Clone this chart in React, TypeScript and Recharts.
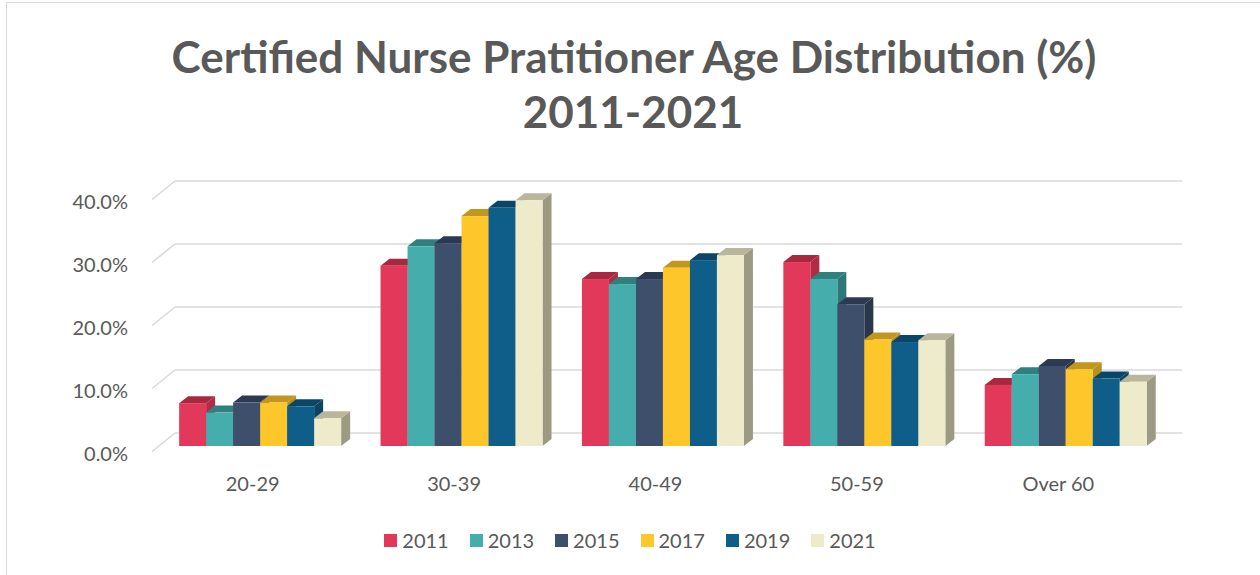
import React from 'react';
import { BarChart, Bar, XAxis, YAxis, CartesianGrid, Legend } from 'recharts';

const categories = ['20-29', '30-39', '40-49', '50-59', 'Over 60'];
const s2011 = [6.8, 28.6, 26.5, 29.2, 9.7];
const s2013 = [5.3, 31.7, 25.7, 26.5, 11.4];
const s2015 = [6.9, 32.2, 26.5, 22.5, 12.7];
const s2017 = [6.9, 36.5, 28.3, 16.9, 12.2];
const s2019 = [6.3, 37.8, 29.5, 16.5, 10.7];
const s2021 = [4.4, 39.0, 30.3, 16.8, 10.2];
const seriesNames = ['2011', '2013', '2015', '2017', '2019', '2021'];
const seriesValues = [s2011, s2013, s2015, s2017, s2019, s2021];
const yTicks = [0, 10, 20, 30, 40];

const frontColors = ['#E2395A', '#45AEAD', '#3E4F6B', '#FDC72B', '#0F5E8A', '#EEEBCB'];
const topColors = ['#A8293F', '#2F807F', '#2B3A52', '#C39620', '#0A4668', '#B9B69C'];
const sideColors = ['#B02C45', '#2F7776', '#2B364B', '#B89020', '#0B4463', '#9C9A82'];

const data = categories.map((c, i) => {
  const row: Record<string, any> = { category: c };
  seriesNames.forEach((n, j) => {
    row[n] = seriesValues[j][i];
  });
  return row;
});

const FONT = 'Lato, "Open Sans", sans-serif';
const TEXT = '#595959';
const GRID = '#D9D9D9';
const DX = 9;
const DY = 7;

const make3D = (idx: number) => (props: any) => {
  const { x, y, width, height } = props;
  if (width == null || height == null) return <g />;
  const w = width;
  const h = height;
  const top = `${x},${y} ${x + DX},${y - DY} ${x + w + DX},${y - DY} ${x + w},${y}`;
  const side = `${x + w},${y} ${x + w + DX},${y - DY} ${x + w + DX},${y + h - DY} ${x + w},${y + h}`;
  return (
    <g>
      <polygon points={side} fill={sideColors[idx]} />
      <polygon points={top} fill={topColors[idx]} />
      <rect x={x} y={y} width={w} height={h} fill={frontColors[idx]} />
    </g>
  );
};

const YTick = (p: any) => (
  <text x={p.x} y={p.y + 6.5} textAnchor="end" dominantBaseline="central" fill={TEXT} fontSize={20} fontFamily={FONT}>
    {`${Number(p.payload.value).toFixed(1)}%`}
  </text>
);

const XTick = (p: any) => (
  <text x={p.x - 7} y={p.y + 36.5} textAnchor="middle" dominantBaseline="central" fill={TEXT} fontSize={20} fontFamily={FONT}>
    {p.payload.value}
  </text>
);

const gridLine = (p: any) => (
  <g key={p.key ?? `${p.y1}`}>
    <line x1={p.x1 - 7} y1={p.y1 + 5.5} x2={p.x1 + 16} y2={p.y1 - 13} stroke={GRID} strokeWidth={1.6} />
    <line x1={p.x1 + 16} y1={p.y1 - 13} x2={p.x2 + 16} y2={p.y1 - 13} stroke={GRID} strokeWidth={1.6} />
  </g>
);

const LegendContent = (props: any) => {
  const payload = props.payload || [];
  return (
    <div style={{ display: 'flex', justifyContent: 'center', alignItems: 'center', fontFamily: FONT, fontSize: 20, color: TEXT }}>
      {payload.map((e: any, i: number) => (
        <div key={i} style={{ display: 'flex', alignItems: 'center', marginRight: i === payload.length - 1 ? 0 : 21 }}>
          <div style={{ width: 13, height: 13, background: e.color, marginRight: 5 }} />
          <span style={{ lineHeight: '20px' }}>{e.value}</span>
        </div>
      ))}
    </div>
  );
};

export default function App() {
  return (
    <div style={{ position: 'absolute', left: 0, top: 0, width: 1260, height: 575, background: '#fff' }}>
      <div style={{ position: 'absolute', left: 6, top: 2, width: 1254, height: 573, borderLeft: '1.5px solid #D9D9D9', borderTop: '1.5px solid #D9D9D9', boxSizing: 'border-box' }} />
      <svg width={1260} height={150} style={{ position: 'absolute', left: 0, top: 0 }}>
        <text x={634} y={73} textAnchor="middle" fill={TEXT} fontSize={44} fontWeight="bold" fontFamily={FONT}>
          Certified Nurse Pratitioner Age Distribution (%)
        </text>
        <text x={633} y={128} textAnchor="middle" fill={TEXT} fontSize={44} fontWeight="bold" fontFamily={FONT}>
          2011-2021
        </text>
      </svg>
      <div style={{ position: 'absolute', left: 0, top: 0 }}>
        <BarChart
          width={1260}
          height={575}
          data={data}
          margin={{ top: 194, right: 94, left: 79, bottom: 99 }}
          barCategoryGap="10%"
          barGap={0}
        >
          <CartesianGrid vertical={false} horizontal={gridLine} />
          <XAxis dataKey="category" axisLine={false} tickLine={false} tickSize={0} tickMargin={0} height={30} tick={<XTick />} interval={0} />
          <YAxis
            domain={[0, 40]}
            ticks={yTicks}
            axisLine={false}
            tickLine={false}
            tickSize={0}
            tickMargin={31}
            width={80}
            tick={<YTick />}
            interval={0}
          />
          <Legend
            layout="horizontal"
            verticalAlign="middle"
            align="center"
            content={<LegendContent />}
            wrapperStyle={{ position: 'absolute', left: 0, top: 530, width: 1260 }}
          />
          {seriesNames.map((n, i) => (
            <Bar key={n} dataKey={n} name={n} fill={frontColors[i]} isAnimationActive={false} shape={make3D(i)} />
          ))}
        </BarChart>
      </div>
    </div>
  );
}
